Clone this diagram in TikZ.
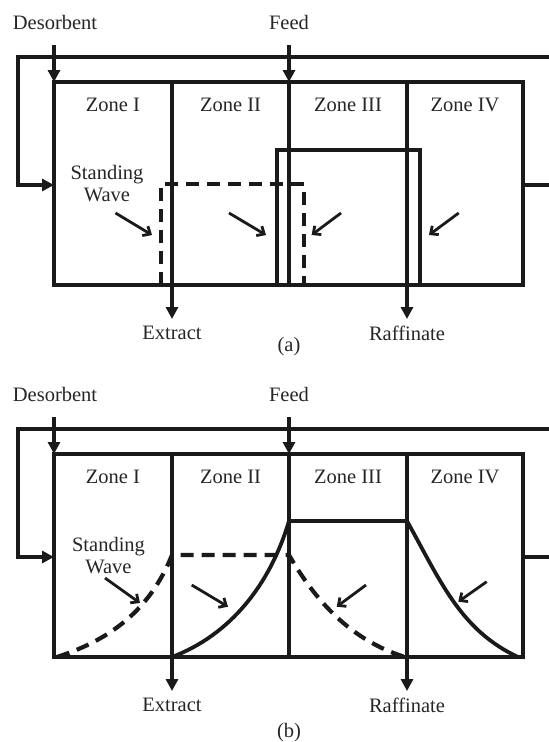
\documentclass[tikz,border=0pt]{standalone}
\usepackage{fontspec}
\setmainfont{Liberation Serif}
\usetikzlibrary{arrows.meta}
\definecolor{ink}{HTML}{1A1A1A}
\definecolor{txt}{HTML}{262626}
\tikzset{
  lbl/.style={font=\fontsize{20.5}{22}\selectfont, text=txt, inner sep=0pt, anchor=center},
  frame/.style={line width=3.4pt, draw=ink, line join=miter},
  flow/.style={frame, -{Triangle[length=12pt,width=12pt]}},
  prof/.style={line width=3.8pt, draw=ink, line join=miter},
  dprof/.style={prof, line width=4.2pt, dash pattern=on 13pt off 8pt},
  pointer/.style={line width=2.8pt, draw=ink, -{Straight Barb[length=6pt,width=11pt,line width=2.8pt]}},
}
\newcommand\smbpanel[1]{%
  \coordinate (#1tl) at (18,57);
  \coordinate (#1tr) at (549,57);
  \coordinate (#1bl) at (18,185);
  \coordinate (#1in) at (54,185);
  \coordinate (#1out) at (523,185);
  \coordinate (#1outr) at (549,185);
  \coordinate (#1boxA) at (54,82);
  \coordinate (#1boxB) at (523,285);
  \coordinate (#1desS) at (54,45);
  \coordinate (#1feedS) at (289,45);
  \coordinate (#1feedT) at (289,82);
  \coordinate (#1feedB) at (289,285);
  \coordinate (#1exT) at (172,82);
  \coordinate (#1exB) at (172,319);
  \coordinate (#1raT) at (407,82);
  \coordinate (#1raB) at (407,319);
  \node[lbl] (#1des) at (55,22) {Desorbent};
  \node[lbl] (#1feed) at (289,22) {Feed};
  \draw[frame] (#1boxA) rectangle (#1boxB);
  \draw[flow] (#1tr) -- (#1tl) -- (#1bl) -- (#1in);
  \draw[frame] (#1out) -- (#1outr);
  \draw[flow] (#1desS) -- (#1boxA);
  \draw[flow] (#1feedS) -- (#1feedT);
  \draw[frame] (#1feedT) -- (#1feedB);
  \draw[flow] (#1exT) -- (#1exB);
  \draw[flow] (#1raT) -- (#1raB);
  \node[lbl] (#1z1) at (113,105) {Zone I};
  \node[lbl] (#1z2) at (230.5,105) {Zone II};
  \node[lbl] (#1z3) at (348,105) {Zone III};
  \node[lbl] (#1z4) at (465,105) {Zone IV};
  \node[lbl] (#1ex) at (172,333) {Extract};
  \node[lbl] (#1ra) at (407,333) {Raffinate};
}
\begin{document}
\begin{tikzpicture}[x=1pt,y=-1pt]
\useasboundingbox (0,0) rectangle (549,742);
% ---------- panel (a)
\smbpanel{a}
\node[lbl, align=center] (asw) at (107,184) {Standing\\Wave};
\node[lbl] (acap) at (289,347) {(a)};
\coordinate (ad1) at (161,285); \coordinate (ad2) at (161,184);
\coordinate (ad3) at (304,184); \coordinate (ad4) at (304,285);
\draw[dprof] (ad1) -- (ad2) -- (ad3) -- (ad4);
\coordinate (as1) at (277,285); \coordinate (as2) at (277,150);
\coordinate (as3) at (420,150); \coordinate (as4) at (420,285);
\draw[prof] (as1) -- (as2) -- (as3) -- (as4);
\coordinate (ap1s) at (115.5,213); \coordinate (ap1e) at (152,235);
\coordinate (ap2s) at (229,213);   \coordinate (ap2e) at (266,235);
\coordinate (ap3s) at (341,213);   \coordinate (ap3e) at (311.6,235);
\coordinate (ap4s) at (458.7,213); \coordinate (ap4e) at (429,235);
\draw[pointer] (ap1s) -- (ap1e);
\draw[pointer] (ap2s) -- (ap2e);
\draw[pointer] (ap3s) -- (ap3e);
\draw[pointer] (ap4s) -- (ap4e);
% ---------- panel (b)
\begin{scope}[yshift=-372pt]
\smbpanel{b}
\node[lbl, align=center] (bsw) at (108.5,184) {Standing\\Wave};
\node[lbl] (bcap) at (289,361) {(b)};
\coordinate (bd1) at (57,285); \coordinate (bd2) at (172,183);
\coordinate (bd3) at (289,183); \coordinate (bd4) at (405,285);
\draw[dprof] (bd1) .. controls (110,268) and (150,238) .. (bd2) -- (bd3)
   .. controls (315,228) and (350,268) .. (bd4);
\coordinate (bs1) at (172,285); \coordinate (bs2) at (289,149);
\coordinate (bs3) at (407,149); \coordinate (bs4) at (518,285);
\draw[prof] (bs1) .. controls (230,263) and (270,213) .. (bs2) -- (bs3)
   .. controls (440,208) and (460,258) .. (bs4);
\coordinate (bp1s) at (105,206);   \coordinate (bp1e) at (140,231);
\coordinate (bp2s) at (191.7,213); \coordinate (bp2e) at (228,234.7);
\coordinate (bp3s) at (366,213);   \coordinate (bp3e) at (336.7,234.7);
\coordinate (bp4s) at (486.7,209.7); \coordinate (bp4e) at (458.3,229.7);
\draw[pointer] (bp1s) -- (bp1e);
\draw[pointer] (bp2s) -- (bp2e);
\draw[pointer] (bp3s) -- (bp3e);
\draw[pointer] (bp4s) -- (bp4e);
\end{scope}
\end{tikzpicture}
\end{document}
